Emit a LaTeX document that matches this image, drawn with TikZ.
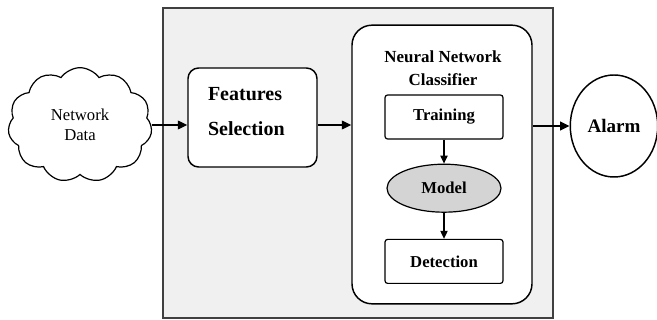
\documentclass[tikz,border=0pt]{standalone}
\usepackage{fontspec}
\setmainfont{Liberation Serif}
\usetikzlibrary{positioning, arrows.meta, shapes.geometric, shapes.symbols}

\begin{document}
\begin{tikzpicture}[x=0.75pt,y=-0.75pt,>={Triangle[length=7pt,width=6.5pt]},
  blk/.style={draw,line width=0.9pt,rounded corners=2pt,fill=white,font=\bfseries\fontsize{12.5}{15}\selectfont,minimum width=88.5pt,minimum height=33pt},
  mdl/.style={ellipse,draw,line width=0.9pt,fill=black!17,font=\bfseries\fontsize{12.5}{15}\selectfont,minimum width=85.5pt,minimum height=36pt},
  rbox/.style={draw,line width=1.1pt,fill=white},
  flow/.style={->,line width=1pt},
  sub/.style={->,line width=0.8pt,>={Triangle[length=6pt,width=5.5pt]}},
  node distance=18pt]
  \useasboundingbox (0,0) rectangle (657,320);
  \node[draw=black!75,line width=1.4pt,fill=black!6,minimum width=292.5pt,minimum height=232.5pt] (frame) at (358,163) {};
  \node[cloud,draw,line width=0.9pt,cloud puffs=11,cloud puff arc=110,cloud ignores aspect,minimum width=108pt,minimum height=86pt,font=\fontsize{12.5}{15}\selectfont,align=center] (net) at (80,125) {Network\\Data};
  \node[rbox,rounded corners=8pt,minimum width=96.75pt,minimum height=74.25pt,text width=66.75pt,align=left,text depth=35pt,font=\bfseries\fontsize{15}{18}\selectfont] (feat) at (252.5,117.5) {Features\\[8pt]Selection};
  \node[rbox,rounded corners=15pt,minimum width=135pt,minimum height=209pt] (nn) at (442,164.5) {};
  \node[font=\bfseries\fontsize{12.7}{17}\selectfont,align=center] (nntitle) at (443,68) {Neural Network\\Classifier};
  \node[blk] (train) at (444,117) {Training};
  \node[mdl,below=18pt of train] (model) {Model};
  \node[blk,below=19.5pt of model] (det) {Detection};
  \node[ellipse,draw,line width=1.1pt,fill=white,minimum width=61.5pt,minimum height=76.5pt,font=\bfseries\fontsize{14.3}{17}\selectfont] (alarm) at (614,126) {Alarm};
  \draw[flow] (net.east) -- (feat.west |- net.east);
  \draw[flow] (feat.east |- net.east) -- (nn.west |- net.east);
  \draw[flow] (nn.east |- alarm) -- (alarm);
  \draw[sub] (train) -- (model);
  \draw[sub] (model) -- (det);
\end{tikzpicture}
\end{document}
